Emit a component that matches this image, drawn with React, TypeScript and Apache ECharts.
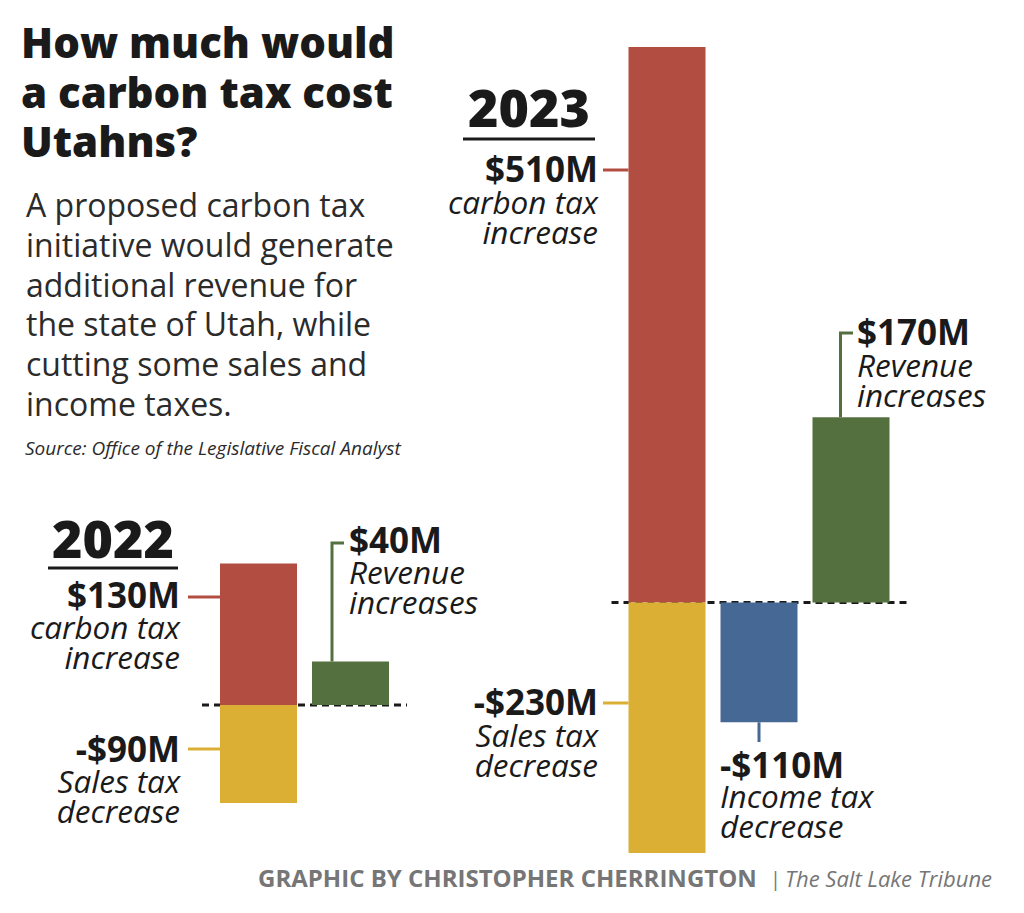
import React, { useEffect, useRef } from 'react';
import * as echarts from 'echarts';

// ---- Data ----
const cats2023 = ['Carbon / sales tax', 'Income tax', 'Revenue'];
const carbon2023 = [510, '-', '-'];
const sales2023 = [-230, '-', '-'];
const income2023 = ['-', -110, '-'];
const revenue2023 = ['-', '-', 170];

const cats2022 = ['Carbon / sales tax', 'Revenue'];
const carbon2022 = [130, '-'];
const sales2022 = [-90, '-'];
const revenue2022 = ['-', 40];

const RED = '#B24E41';
const YELLOW = '#DBAE34';
const BLUE = '#466895';
const GREEN = '#55703F';
const INK = '#1a1a1a';
const FONT = '"Open Sans", "Noto Sans", sans-serif';

const fmt = (v: number) => (v < 0 ? '-$' + Math.abs(v) + 'M' : '$' + v + 'M');

export default function App() {
  const ref = useRef<HTMLDivElement>(null);
  useEffect(() => {
    document.body.style.margin = '0';
    const chart = echarts.init(ref.current!, null, { renderer: 'svg' });
    const bar = (name: string, data: any[], color: string, axis: number) => ({
      type: 'bar', name, data, stack: 's' + axis, xAxisIndex: axis, yAxisIndex: axis,
      barWidth: 77, itemStyle: { color }, silent: true,
    });
    chart.setOption({
      animation: false,
      backgroundColor: '#ffffff',
      grid: [
        { left: 621, top: 47, width: 276, height: 806 },
        { left: 212.5, top: 563.4, width: 184, height: 239.6 },
      ],
      xAxis: [
        { type: 'category', gridIndex: 0, data: cats2023, show: false },
        { type: 'category', gridIndex: 1, data: cats2022, show: false },
      ],
      yAxis: [
        { type: 'value', gridIndex: 0, min: -230, max: 510, show: false, splitLine: { show: false } },
        { type: 'value', gridIndex: 1, min: -90, max: 130, show: false, splitLine: { show: false } },
      ],
      series: [
        bar('Carbon tax increase 2023', carbon2023, RED, 0),
        bar('Sales tax decrease 2023', sales2023, YELLOW, 0),
        bar('Income tax decrease 2023', income2023, BLUE, 0),
        bar('Revenue increases 2023', revenue2023, GREEN, 0),
        bar('Carbon tax increase 2022', carbon2022, RED, 1),
        bar('Sales tax decrease 2022', sales2022, YELLOW, 1),
        bar('Revenue increases 2022', revenue2022, GREEN, 1),
      ],
    });

    const p = (g: number, i: number, v: number) => chart.convertToPixel({ gridIndex: g }, [i, v]) as number[];
    const half = 38.5;
    const els: any[] = [];
    const txt = (text: string, x: number, baseline: number, size: number, opts: any = {}) => {
      els.push({
        type: 'text', x, y: baseline - 0.388 * size, silent: true,
        style: {
          text, fontSize: size, fontFamily: FONT, fontWeight: opts.weight || 400,
          fontStyle: opts.italic ? 'italic' : 'normal', fill: opts.fill || INK,
          align: opts.align || 'left', verticalAlign: 'middle',
          lineHeight: opts.lh || Math.round(size * 0.85),
        },
      });
    };
    const line = (x1: number, y1: number, x2: number, y2: number, color: string, w = 3, dash?: number[]) => {
      els.push({ type: 'line', silent: true, shape: { x1, y1, x2, y2 }, style: { stroke: color, lineWidth: w, lineDash: dash } });
    };
    const NUM = 35;
    const IT = 31.5;

    // Title & description
    ['How much would', 'a carbon tax cost', 'Utahns?'].forEach((t, i) =>
      txt(t, 21, [58, 108, 157][i], 42, { weight: 800 }));
    ['A proposed carbon tax', 'initiative would generate', 'additional revenue for',
      'the state of Utah, while', 'cutting some sales and', 'income taxes.'].forEach((t, i) =>
      txt(t, 26, 217 + 39.8 * i, 32, { fill: '#2b2b2b' }));
    txt('Source: Office of the Legislative Fiscal Analyst', 25, 455, 19, { italic: true, fill: '#2b2b2b' });

    // ---- 2023 ----
    const z23 = p(0, 0, 0)[1];
    const c23 = [0, 1, 2].map((i) => p(0, i, 0)[0]);
    txt('2023', 529, 127, 52, { weight: 800, align: 'center' });
    line(463, 139, 595, 139, INK, 3);
    line(c23[0] - half - 17, z23, c23[2] + half + 19, z23, INK, 3, [7, 5]);
    // carbon
    line(603, 170, c23[0] - half, 170, RED);
    txt(fmt(carbon2023[0] as number), 598, 182, NUM, { weight: 700, align: 'right' });
    txt('carbon tax', 598, 214, IT, { italic: true, align: 'right' });
    txt('increase', 598, 244, IT, { italic: true, align: 'right' });
    // sales
    line(603, 703, c23[0] - half, 703, YELLOW);
    txt(fmt(sales2023[0] as number), 598, 715, NUM, { weight: 700, align: 'right' });
    txt('Sales tax', 598, 747, IT, { italic: true, align: 'right' });
    txt('decrease', 598, 777, IT, { italic: true, align: 'right' });
    // income
    const incBottom = p(0, 1, income2023[1] as number)[1];
    line(c23[1], incBottom, c23[1], 742, BLUE);
    txt(fmt(income2023[1] as number), 720, 778, NUM, { weight: 700 });
    txt('Income tax', 720, 808, IT, { italic: true });
    txt('decrease', 720, 838, IT, { italic: true });
    // revenue
    const revTop = p(0, 2, revenue2023[2] as number)[1];
    const gx = c23[2] - half + 28;
    els.push({ type: 'polyline', silent: true, shape: { points: [[853, 333], [gx, 333], [gx, revTop]] }, style: { stroke: GREEN, lineWidth: 3, fill: 'none' } });
    txt(fmt(revenue2023[2] as number), 857, 345, NUM, { weight: 700 });
    txt('Revenue', 857, 377, IT, { italic: true });
    txt('increases', 857, 407, IT, { italic: true });

    // ---- 2022 ----
    const z22 = p(1, 0, 0)[1];
    const c22 = [0, 1].map((i) => p(1, i, 0)[0]);
    txt('2022', 113, 558, 52, { weight: 800, align: 'center' });
    line(48, 568, 178, 568, INK, 3);
    line(c22[0] - half - 18, z22, c22[1] + half + 18, z22, INK, 3, [7, 5]);
    line(188, 597, c22[0] - half, 597, RED);
    txt(fmt(carbon2022[0] as number), 180, 608, NUM, { weight: 700, align: 'right' });
    txt('carbon tax', 180, 639, IT, { italic: true, align: 'right' });
    txt('increase', 180, 669, IT, { italic: true, align: 'right' });
    line(188, 749, c22[0] - half, 749, YELLOW);
    txt(fmt(sales2022[0] as number), 180, 762, NUM, { weight: 700, align: 'right' });
    txt('Sales tax', 180, 793, IT, { italic: true, align: 'right' });
    txt('decrease', 180, 823, IT, { italic: true, align: 'right' });
    const rev22Top = p(1, 1, revenue2022[1] as number)[1];
    const gx22 = c22[1] - half + 20;
    els.push({ type: 'polyline', silent: true, shape: { points: [[344, 543], [gx22, 543], [gx22, rev22Top]] }, style: { stroke: GREEN, lineWidth: 3, fill: 'none' } });
    txt(fmt(revenue2022[1] as number), 349, 553, NUM, { weight: 700 });
    txt('Revenue', 349, 584, IT, { italic: true });
    txt('increases', 349, 614, IT, { italic: true });

    // Footer
    txt('GRAPHIC BY CHRISTOPHER CHERRINGTON', 258, 887, 24, { weight: 700, fill: '#767676' });
    txt('|', 770, 886, 20, { fill: '#767676' });
    txt('The Salt Lake Tribune', 785, 887, 22, { italic: true, fill: '#767676' });

    chart.setOption({ graphic: els });
    return () => chart.dispose();
  }, []);
  return <div ref={ref} style={{ width: 1024, height: 913 }} />;
}
